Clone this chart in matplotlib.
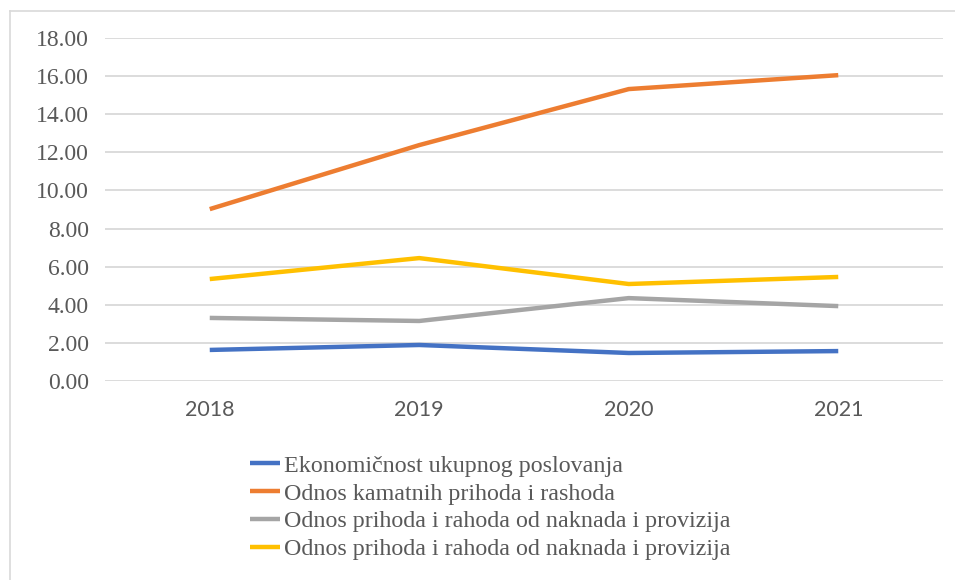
import matplotlib
matplotlib.use("Agg")
import matplotlib.pyplot as plt
from matplotlib.lines import Line2D

years = ["2018", "2019", "2020", "2021"]
ekonomicnost = [1.63, 1.89, 1.47, 1.57]
kamatni = [9.02, 12.38, 15.32, 16.05]
naknade_1 = [3.31, 3.15, 4.35, 3.93]
naknade_2 = [5.35, 6.45, 5.09, 5.46]
labels = [
    "Ekonomičnost ukupnog poslovanja",
    "Odnos kamatnih prihoda i rashoda",
    "Odnos prihoda i rahoda od naknada i provizija",
    "Odnos prihoda i rahoda od naknada i provizija",
]
colors = ["#4472C4", "#ED7D31", "#A5A5A5", "#FFC000"]
yticks = [0, 2, 4, 6, 8, 10, 12, 14, 16, 18]

fig = plt.figure(figsize=(9.55, 5.8), dpi=100)
ax = fig.add_axes([105/955, 1-381/580, (943-105)/955, (381-38)/580])

x = list(range(len(years)))
for series, lab, c in zip([ekonomicnost, kamatni, naknade_1, naknade_2], labels, colors):
    ax.plot(x, series, color=c, lw=3.2, label=lab, solid_capstyle="butt")

ax.set_xlim(-0.5, 3.5)
ax.set_ylim(0, 18)
ax.set_yticks(yticks)
ax.set_yticklabels([f"{v:.2f}" for v in yticks], fontfamily="Liberation Serif",
                   fontsize=17, color="#595959")
ax.set_xticks(x)
ax.set_xticklabels(years, fontfamily="Lato", fontsize=15.5, color="#595959")
ax.tick_params(axis="both", length=0)
ax.tick_params(axis="y", pad=11.5)
ax.tick_params(axis="x", pad=14)
ax.grid(axis="y", color="#d9d9d9", lw=1.3)
ax.set_axisbelow(True)
for s in ax.spines.values():
    s.set_visible(False)

leg = fig.legend(loc="upper left", bbox_to_anchor=(250/955, 1-455/580),
                 frameon=False, prop={"family": "Liberation Serif", "size": 17.3},
                 handlelength=1.25, handletextpad=0.15, labelspacing=0.25,
                 borderaxespad=0, borderpad=0)
for t in leg.get_texts():
    t.set_color("#595959")

# outer frame (left and top edges)
fig.add_artist(Line2D([10/955, 10/955], [0, 1-11/580], transform=fig.transFigure,
                      color="#d9d9d9", lw=1.2))
fig.add_artist(Line2D([10/955, 1], [1-11/580, 1-11/580], transform=fig.transFigure,
                      color="#d9d9d9", lw=1.2))

fig.savefig("out.png", dpi=100)
